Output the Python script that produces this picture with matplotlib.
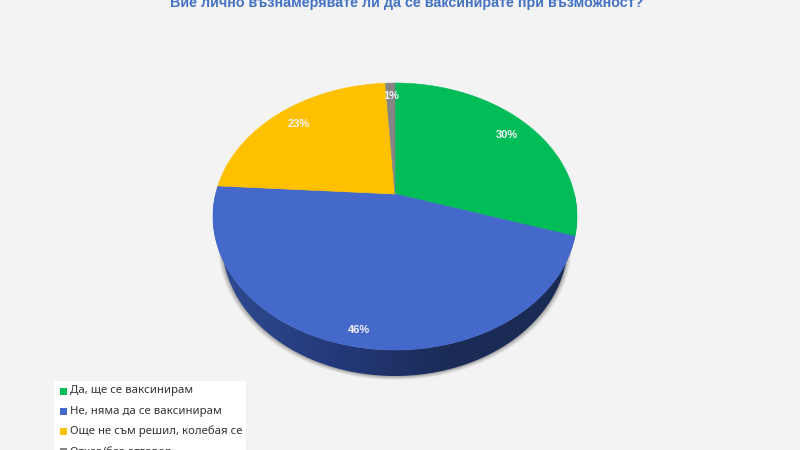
import numpy as np
import matplotlib
matplotlib.use("Agg")
import matplotlib.pyplot as plt
from matplotlib.colors import LinearSegmentedColormap
from matplotlib.patches import Rectangle, Polygon

title = "Вие лично възнамерявате ли да се ваксинирате при възможност?"
labels = ["Да, ще се ваксинирам", "Не, няма да се ваксинирам",
          "Още не съм решил, колебая се", "Отказ/без отговор"]
values = [30, 46, 23, 1]
colors = ["#00BD58", "#4469CB", "#FFC000", "#858585"]

BG = "#F3F3F3"
CX, CY = 395, 194   # apex of the slices, pixels
DEPTH = 26
SHRINK = 0.95       # lower rim is a bit narrower than the top one
K, A, B = 0.1686, 129.7, 179.4  # perspective squash of the disc
LABEL_POS = [0.85, 0.89, 0.85, 0.88]  # how far out each % label sits


def project(theta):
    # theta is clockwise from the top of the disc
    u, v = np.sin(theta), np.cos(theta)
    w = 1 + K * v
    return CX + B * u / w, CY - A * v / w


fig = plt.figure(figsize=(8, 4.5), dpi=100, facecolor=BG)
ax = fig.add_axes([0, 0, 1, 1])
ax.set_xlim(0, 800)
ax.set_ylim(450, 0)
ax.axis("off")

# outline of the side: top rim plus the lower, narrower rim
rim = np.linspace(np.pi / 2, 3 * np.pi / 2, 300)
xr, yr = project(rim)
xl = CX + (xr - CX) * SHRINK
yl = yr + DEPTH
side = np.c_[np.r_[xr, xl[::-1]], np.r_[yr, yl[::-1]]]

# soft shadow under the side
for grow, alpha in [(4, 0.05), (3, 0.07), (2, 0.09), (1, 0.12)]:
    ax.add_patch(Polygon(np.c_[CX + (xl - CX) * (1 + grow / 180), yl + grow],
                         closed=True, facecolor="black", edgecolor="none",
                         alpha=alpha, zorder=1))

# side of the pie, darker towards the right
cmap = LinearSegmentedColormap.from_list(
    "side", ["#2F4C94", "#24397A", "#1A2B55", "#1A2B55"])
grad = ax.imshow(np.linspace(0, 1, 256).reshape(1, -1), cmap=cmap, aspect="auto",
                 extent=(210, 580, 380, 190), zorder=2)
patch = Polygon(side, closed=True, transform=ax.transData, facecolor="none", edgecolor="none")
ax.add_patch(patch)
grad.set_clip_path(patch)
ax.set_xlim(0, 800)
ax.set_ylim(450, 0)

# top surface
edges = np.cumsum([0] + values) / sum(values) * 2 * np.pi
for a, b, col, val, f in zip(edges[:-1], edges[1:], colors, values, LABEL_POS):
    th = np.linspace(a, b, 120)
    x, y = project(th)
    ax.fill(np.r_[CX, x], np.r_[CY, y], color=col, lw=0.4, zorder=3)
    lx, ly = project((a + b) / 2)
    ax.text(CX + (lx - CX) * f, CY + (ly - CY) * f, f"{val}%", color="#F4F4F4",
            fontsize=8, fontweight="bold", family="Liberation Sans",
            ha="center", va="center", zorder=4)

ax.text(407, 3, title, color="#4472C4", fontsize=10.25, fontweight="bold",
        family="Liberation Sans", ha="center", va="center")

# legend, cut by the bottom edge as in the source
ax.add_patch(Rectangle((54, 381), 192, 70, facecolor="white", edgecolor="none", zorder=2))
for i, (lab, col) in enumerate(zip(labels, colors)):
    y = 391 + i * 20.3
    ax.add_patch(Rectangle((60, y - 3.5), 7, 7, facecolor=col, edgecolor="none", zorder=3))
    ax.text(70, y, lab, color="#333333", fontsize=8.2, family="Noto Sans",
            va="center", zorder=3)

fig.savefig("out.png", dpi=100, facecolor=BG)
